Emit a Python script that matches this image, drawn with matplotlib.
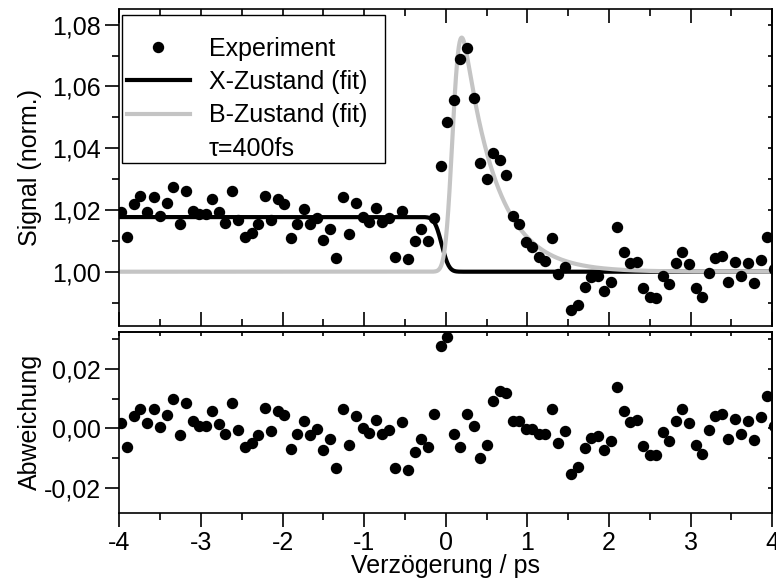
import math
import numpy as np
import matplotlib
matplotlib.use("Agg")
import matplotlib.pyplot as plt
from matplotlib.lines import Line2D
from matplotlib.patches import Rectangle
from matplotlib.legend_handler import HandlerLine2D
from matplotlib.ticker import MultipleLocator, FuncFormatter

plt.rcParams['font.family'] = ['Liberation Sans', 'DejaVu Sans']

# pump-probe delays (ps)
delay = [
    -3.98, -3.90, -3.82, -3.74, -3.66, -3.58, -3.50, -3.42, -3.34, -3.26,
    -3.18, -3.10, -3.02, -2.94, -2.86, -2.78, -2.70, -2.62, -2.54, -2.46,
    -2.38, -2.30, -2.22, -2.14, -2.06, -1.98, -1.90, -1.82, -1.74, -1.66,
    -1.58, -1.50, -1.42, -1.34, -1.26, -1.18, -1.10, -1.02, -0.94, -0.86,
    -0.78, -0.70, -0.62, -0.54, -0.46, -0.38, -0.30, -0.22, -0.14, -0.06,
    0.02, 0.10, 0.18, 0.26, 0.34, 0.42, 0.50, 0.58, 0.66, 0.74,
    0.82, 0.90, 0.98, 1.06, 1.14, 1.22, 1.30, 1.38, 1.46, 1.54,
    1.62, 1.70, 1.78, 1.86, 1.94, 2.02, 2.10, 2.18, 2.26, 2.34,
    2.42, 2.50, 2.58, 2.66, 2.74, 2.82, 2.90, 2.98, 3.06, 3.14,
    3.22, 3.30, 3.38, 3.46, 3.54, 3.62, 3.70, 3.78, 3.86, 3.94,
    4.02,
]

# normalised signal
signal = [
    1.0193, 1.0112, 1.0220, 1.0244, 1.0193, 1.0242, 1.0182, 1.0222, 1.0274, 1.0155,
    1.0260, 1.0196, 1.0188, 1.0188, 1.0234, 1.0193, 1.0157, 1.0260, 1.0168, 1.0112,
    1.0126, 1.0153, 1.0244, 1.0166, 1.0234, 1.0220, 1.0108, 1.0155, 1.0202, 1.0153,
    1.0175, 1.0103, 1.0139, 1.0045, 1.0242, 1.0122, 1.0222, 1.0178, 1.0162, 1.0207,
    1.0162, 1.0173, 1.0047, 1.0198, 1.0040, 1.0100, 1.0137, 1.0100, 1.0173, 1.0344,
    1.0486, 1.0557, 1.0689, 1.0724, 1.0564, 1.0353, 1.0301, 1.0384, 1.0362, 1.0313,
    1.0181, 1.0153, 1.0097, 1.0081, 1.0047, 1.0035, 1.0108, 0.9993, 1.0016, 0.9876,
    0.9892, 0.9951, 0.9982, 0.9986, 0.9938, 0.9968, 1.0144, 1.0063, 1.0027, 1.0032,
    0.9946, 0.9917, 0.9914, 0.9986, 0.9960, 1.0027, 1.0065, 1.0024, 0.9946, 0.9917,
    0.9995, 1.0043, 1.0051, 0.9968, 1.0032, 0.9986, 1.0027, 0.9964, 1.0038, 1.0112,
    1.0008,
]

# data minus fit
residual = [
    0.0017, -0.0063, 0.0042, 0.0064, 0.0019, 0.0064, 0.0005, 0.0044, 0.0097, -0.0021,
    0.0085, 0.0024, 0.0009, 0.0009, 0.0059, 0.0014, -0.0019, 0.0085, -0.0006, -0.0063,
    -0.0050, -0.0023, 0.0067, -0.0008, 0.0059, 0.0044, -0.0067, -0.0020, 0.0025, -0.0023,
    -0.0002, -0.0072, -0.0035, -0.0131, 0.0064, -0.0056, 0.0042, 0.0000, -0.0015, 0.0030,
    -0.0017, -0.0006, -0.0131, 0.0021, -0.0139, -0.0078, -0.0036, -0.0063, 0.0048, 0.0275,
    0.0305, -0.0017, -0.0063, 0.0048, 0.0009, -0.0098, -0.0056, 0.0091, 0.0124, 0.0119,
    0.0024, 0.0025, -0.0002, -0.0002, -0.0020, -0.0020, 0.0064, -0.0047, -0.0009, -0.0152,
    -0.0128, -0.0065, -0.0031, -0.0026, -0.0072, -0.0041, 0.0139, 0.0058, 0.0022, 0.0030,
    -0.0059, -0.0089, -0.0089, -0.0013, -0.0042, 0.0025, 0.0064, 0.0020, -0.0056, -0.0086,
    -0.0006, 0.0041, 0.0048, -0.0036, 0.0031, -0.0017, 0.0025, -0.0039, 0.0037, 0.0109,
    0.0009,
]

# fit parameters
tau_ps = 0.4          # B-state decay time
sigma_ps = 0.07       # cross-correlation width
x_amp, x_t0 = 0.0177, -0.05
b_amp, b_t0 = 0.107, 0.088

erfc = np.vectorize(math.erfc)
t = np.linspace(-4, 4, 1601)
x_fit = 1 + x_amp * 0.5 * erfc((t - x_t0) / (np.sqrt(2) * sigma_ps))
b_fit = 1 + b_amp * 0.5 * np.exp(sigma_ps**2 / (2 * tau_ps**2) - (t - b_t0) / tau_ps) \
    * erfc((sigma_ps / tau_ps - (t - b_t0) / sigma_ps) / np.sqrt(2))

FS = 18
GRAY = '#c4c4c4'


def comma_fmt(v, pos):
    if abs(v) < 1e-9:
        v = 0.0
    return f"{v:.2f}".replace('.', ',')


class MarkerLeftHandler(HandlerLine2D):
    # put the symbol a third of the way along the handle
    def get_xdata(self, legend, xdescent, ydescent, width, height, fontsize):
        xdata, _ = super().get_xdata(legend, xdescent, ydescent, width, height, fontsize)
        return xdata, np.array([-xdescent + width * 0.33])


fig = plt.figure(figsize=(7.76, 5.83), dpi=100)
ax1 = fig.add_axes([0.1537, 0.4413, 0.8415, 0.5427])
ax2 = fig.add_axes([0.1537, 0.1206, 0.8415, 0.3099])

# --- top panel: signal + fits
ax1.plot(t, x_fit, color='black', lw=3.0, zorder=2)
ax1.plot(t, b_fit, color=GRAY, lw=3.0, zorder=2)
ax1.plot(delay, signal, 'o', color='black', ms=7.2, zorder=3)
ax1.set_xlim(-4, 4)
ax1.set_ylim(0.9825, 1.085)
ax1.yaxis.set_major_locator(MultipleLocator(0.02))
ax1.yaxis.set_minor_locator(MultipleLocator(0.01))
ax1.yaxis.set_major_formatter(FuncFormatter(comma_fmt))
ax1.xaxis.set_major_locator(MultipleLocator(1))
ax1.xaxis.set_minor_locator(MultipleLocator(0.5))
ax1.tick_params(axis='x', which='both', direction='in', top=True, bottom=True,
                labelbottom=False)
ax1.set_ylabel('Signal (norm.)', fontsize=FS, va='center')
ax1.yaxis.set_label_coords(-0.137, 0.5)

# legend box
ax1.add_patch(Rectangle((0.0046, 0.514), 0.4025, 0.468, transform=ax1.transAxes,
                        facecolor='white', edgecolor='black', lw=1.0, zorder=4))
exp_handle = Line2D([], [], ls='none', marker='o', color='black', ms=7.2)
handles = [
    exp_handle,
    Line2D([], [], color='black', lw=3.0),
    Line2D([], [], color=GRAY, lw=3.0),
    Line2D([], [], ls='none'),
]
labels = ['Experiment', 'X-Zustand (fit)', 'B-Zustand (fit)', f'τ={tau_ps * 1000:.0f}fs']
leg = ax1.legend(handles, labels, loc='upper left', bbox_to_anchor=(0.0118, 0.913),
                 frameon=False, fontsize=FS, borderpad=0, borderaxespad=0,
                 handlelength=2.52, handletextpad=0.76, labelspacing=0.37, numpoints=1,
                 handler_map={exp_handle: MarkerLeftHandler(numpoints=1)})
leg.set_zorder(5)

# --- bottom panel: residuals
ax2.plot(delay, residual, 'o', color='black', ms=7.2)
ax2.set_xlim(-4, 4)
ax2.set_ylim(-0.0281, 0.0322)
ax2.yaxis.set_major_locator(MultipleLocator(0.02))
ax2.yaxis.set_minor_locator(MultipleLocator(0.01))
ax2.yaxis.set_major_formatter(FuncFormatter(comma_fmt))
ax2.xaxis.set_major_locator(MultipleLocator(1))
ax2.xaxis.set_minor_locator(MultipleLocator(0.5))
ax2.xaxis.set_major_formatter(FuncFormatter(lambda v, p: f"{v:.0f}"))
ax2.tick_params(axis='x', which='both', direction='out', top=False)
ax2.set_ylabel('Abweichung', fontsize=FS, va='center')
ax2.yaxis.set_label_coords(-0.137, 0.5)
ax2.set_xlabel('Verzögerung / ps', fontsize=FS, va='center')
ax2.xaxis.set_label_coords(0.5, -0.295)

# short inward ticks along the top of the residual panel
top2 = ax2.secondary_xaxis('top')
top2.xaxis.set_major_locator(MultipleLocator(1))
top2.xaxis.set_minor_locator(MultipleLocator(0.5))
top2.tick_params(which='both', direction='in', length=3, width=1.2, labeltop=False)
top2.spines['top'].set_linewidth(1.2)

for ax in (ax1, ax2):
    for s in ax.spines.values():
        s.set_linewidth(1.2)
    ax.tick_params(axis='y', which='both', left=True, right=False, direction='out')
    ax.tick_params(which='major', length=10, width=1.2, labelsize=FS, pad=3)
    ax.tick_params(which='minor', length=5, width=1.2)
    # short inward ticks on the right spine
    sec = ax.secondary_yaxis('right')
    sec.yaxis.set_major_locator(MultipleLocator(0.02))
    sec.yaxis.set_minor_locator(MultipleLocator(0.01))
    sec.tick_params(which='both', direction='in', length=3, width=1.2, labelright=False)
    sec.spines['right'].set_linewidth(1.2)

fig.savefig('out.png', dpi=100)
